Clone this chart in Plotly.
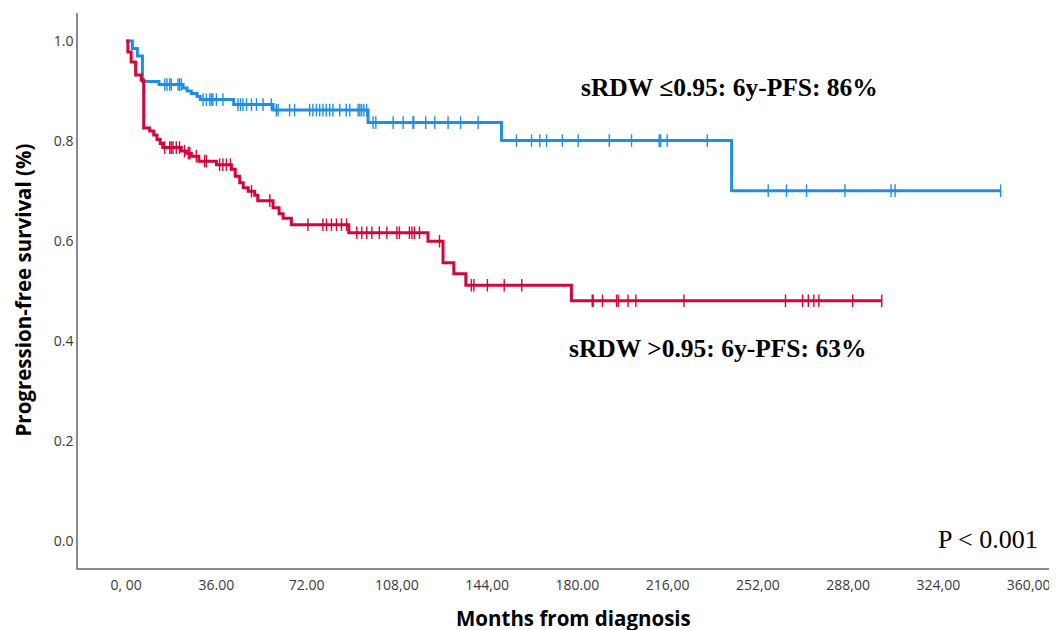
import numpy as np
import plotly.graph_objects as go

# ---- data -------------------------------------------------------------
# Kaplan-Meier step points (time in months, survival)
low_times = [0, 2.5, 4.5, 6.5, 13.1, 22.7, 24.3, 26.0, 28.3, 29.6, 42.9, 58.6,
             96.5, 149.7, 241.5, 349.0]
low_surv = [1.0, 0.985, 0.97, 0.919, 0.913, 0.906, 0.900, 0.895, 0.889, 0.883,
            0.873, 0.862, 0.837, 0.801, 0.701, 0.701]
low_censor = [15.4, 16.3, 17.4, 18.0, 20.7, 21.3, 22.0, 30.7, 32.0, 33.3, 34.0,
              34.6, 36.0, 38.6, 44.6, 45.6, 46.6, 48.0, 50.0, 52.0, 54.6, 57.9,
              59.9, 60.6, 65.2, 67.2, 73.2, 74.5, 75.9, 77.2, 78.5, 79.8, 81.2,
              82.5, 85.2, 87.8, 89.2, 92.5, 93.2, 93.9, 94.8, 95.9, 98.5, 99.6,
              106.5, 110.5, 114.4, 114.7, 119.5, 123.1, 128.4, 133.4, 140.4,
              155.7, 161.7, 165.0, 167.7, 174.0, 180.3, 192.7, 201.6, 212.6,
              213.2, 215.8, 231.8, 256.1, 263.4, 271.4, 286.7, 305.1, 306.7,
              348.8]

high_times = [0, 0.7, 2.0, 3.8, 6.0, 7.0, 9.4, 11.0, 12.3, 13.6, 14.6, 22.0, 24.0,
              26.0, 29.0, 36.0, 42.0, 43.5, 45.3, 46.7, 48.7, 51.3, 52.5, 58.6,
              61.0, 62.6, 65.9, 88.8, 120.4, 126.4, 130.7, 135.5, 177.6, 301.4]
high_surv = [1.0, 0.978, 0.958, 0.932, 0.922, 0.826, 0.820, 0.812, 0.803, 0.795,
             0.787, 0.780, 0.776, 0.770, 0.760, 0.753, 0.744, 0.730, 0.717, 0.707,
             0.700, 0.692, 0.681, 0.667, 0.655, 0.646, 0.633, 0.617, 0.600, 0.557,
             0.535, 0.512, 0.481, 0.481]
high_censor = [15.4, 17.4, 18.0, 18.7, 20.0, 21.3, 23.3, 24.8, 25.4, 28.0, 31.3,
               32.0, 37.3, 38.6, 40.0, 41.6, 50.0, 57.3, 72.5, 78.5, 79.9, 81.9,
               83.9, 85.9, 87.9, 92.0, 94.0, 96.0, 98.0, 101.0, 104.0, 108.0,
               109.0, 113.0, 114.0, 115.0, 117.0, 125.0, 137.7, 138.7, 144.1,
               150.8, 157.8, 185.9, 186.3, 190.0, 195.6, 196.3, 200.2, 203.3,
               222.5, 263.0, 269.8, 272.1, 274.3, 276.3, 289.8, 301.4]

x_tickvals = [0, 36, 72, 108, 144, 180, 216, 252, 288, 324, 360]
x_ticktext = ["0, 00", "36.00", "72.00", "108,00", "144,00", "180.00", "216,00",
              "252,00", "288,00", "324,00", "360,00"]
y_tickvals = [0.0, 0.2, 0.4, 0.6, 0.8, 1.0]
y_ticktext = ["0.0", "0.2", "0.4", "0.6", "0.8", "1.0"]

BLUE = "#1E8FE4"
RED = "#D2063A"


def surv_at(times, surv, t):
    idx = np.searchsorted(np.array(times), np.array(t), side="right") - 1
    return np.array(surv)[idx]


fig = go.Figure()
for times, surv, cens, col, name in [
    (low_times, low_surv, low_censor, BLUE, "sRDW ≤0.95"),
    (high_times, high_surv, high_censor, RED, "sRDW >0.95"),
]:
    fig.add_trace(go.Scatter(x=times, y=surv, mode="lines", line_shape="hv",
                             line=dict(color=col, width=3), name=name,
                             showlegend=False, hoverinfo="skip"))
    fig.add_trace(go.Scatter(x=cens, y=surv_at(times, surv, cens), mode="markers",
                             marker=dict(symbol="line-ns", size=9,
                                         line=dict(color=col, width=1.4)),
                             showlegend=False, name=name + " censored"))

serif = "Liberation Serif, Times New Roman, serif"
sans = "Open Sans, DejaVu Sans, sans-serif"

fig.update_layout(
    width=1057, height=630,
    margin=dict(l=70, r=15, t=5, b=70),
    paper_bgcolor="white", plot_bgcolor="white",
    xaxis=dict(range=[-19.2, 368.5], tickvals=x_tickvals, ticktext=x_ticktext,
               showgrid=False, zeroline=False, showline=True, linecolor="#8a8a8a",
               linewidth=1.5, ticks="", ticklabelstandoff=3,
               tickfont=dict(family=sans, size=14, color="#3a3a3a")),
    yaxis=dict(range=[-0.053, 1.056], tickvals=y_tickvals, ticktext=y_ticktext,
               showgrid=False, zeroline=False, showline=True, linecolor="#8a8a8a",
               linewidth=1.5, ticks="", ticklabelstandoff=0,
               tickfont=dict(family=sans, size=14, color="#3a3a3a")),
    annotations=[
        dict(text="<b>sRDW ≤0.95: 6y-PFS: 86%</b>", x=0.670, y=0.865,
             xref="paper", yref="paper", showarrow=False,
             xanchor="center", yanchor="middle",
             font=dict(family=serif, size=25.5, color="black")),
        dict(text="<b>sRDW >0.95: 6y-PFS: 63%</b>", x=0.658, y=0.396,
             xref="paper", yref="paper", showarrow=False,
             xanchor="center", yanchor="middle",
             font=dict(family=serif, size=25.5, color="black")),
        dict(text="P < 0.001", x=0.990, y=0.052, xref="paper", yref="paper",
             xanchor="right", yanchor="middle", showarrow=False,
             font=dict(family=serif, size=26, color="black")),
        dict(text="<b>Months from diagnosis</b>", x=0.510, y=-0.090,
             xref="paper", yref="paper", showarrow=False,
             xanchor="center", yanchor="middle",
             font=dict(family=sans, size=20.5, color="black")),
        dict(text="<b>Progression-free survival (%)</b>", x=-0.0576, y=0.5,
             xref="paper", yref="paper", showarrow=False, textangle=-90,
             xanchor="center", yanchor="middle",
             font=dict(family=sans, size=20.5, color="black")),
    ],
)

fig.write_html("out.html")
